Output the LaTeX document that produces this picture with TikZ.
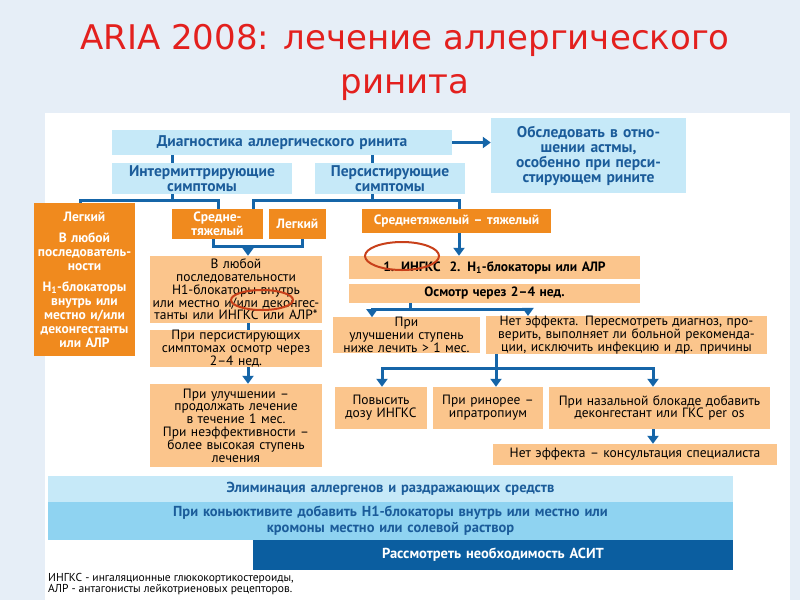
\documentclass[tikz,border=0pt]{standalone}
\usepackage{fontspec}
\setmainfont{PT Sans}
\newfontfamily\titlefont{DejaVu Sans}
\usetikzlibrary{arrows.meta}
\definecolor{bgblue}{HTML}{E6EEF7}
\definecolor{lblue}{HTML}{C6E9F8}
\definecolor{tblue}{HTML}{1B5C9A}
\definecolor{orng}{HTML}{F08A1E}
\definecolor{peach}{HTML}{FBC58C}
\definecolor{mblue}{HTML}{8FD3F1}
\definecolor{dblue}{HTML}{0B5EA0}
\definecolor{ablue}{HTML}{1565A8}
\definecolor{ttlred}{HTML}{E3201E}
\definecolor{ring}{HTML}{C8401A}
\newcommand\bx[7]{\node[#6,inner sep=0pt,align=center,minimum width={(#4-#2)*1pt},minimum height={(#5-#3)*1pt},text width={(#4-#2-4)*1pt}] (#1) at ({(#2+#4)/2},{(#3+#5)/2}) {#7};}
\tikzset{
 bluebox/.style={fill=lblue,text=tblue,font=\bfseries\fontsize{15.5}{15}\selectfont},
 orbox/.style={fill=orng,text=white,font=\bfseries\fontsize{13.5}{14}\selectfont},
 pbox/.style={fill=peach,text=black,font=\fontsize{13.5}{12.8}\selectfont},
 con/.style={draw=ablue,line width=3pt},
 arr/.style={con,-{Triangle[length=8pt,width=11pt]}},
}
\begin{document}
\begin{tikzpicture}[x=1pt,y=-1pt]
\fill[bgblue] (0,0) rectangle (800,600);
\fill[white] (45,113) rectangle (790,600);
\node[text=ttlred,font=\titlefont\fontsize{34}{44}\selectfont,align=center] (title) at (405,62) {ARIA 2008: лечение аллергического\\ринита};
\bx{diag}{112}{130}{452}{155}{bluebox}{Диагностика аллергического ринита}
\bx{asth}{491}{118}{686}{193}{bluebox}{Обследовать в отно-\\шении астмы,\\особенно при перси-\\стирующем рините}
\bx{intm}{112}{163}{292}{194}{bluebox}{Интермиттрирующие\\симптомы}
\bx{pers}{315}{163}{465}{194}{bluebox}{Персистирующие\\симптомы}
\bx{leg1}{34}{203}{135}{356}{orbox}{Легкий\\[7pt]В любой последователь-\\ности\\[7pt]H\textsubscript{1}-блокаторы внутрь или местно и/или деконгестанты или АЛР}
\bx{srt}{172}{209}{263}{239}{orbox}{Средне-\\тяжелый}
\bx{leg2}{269}{209}{326}{239}{orbox}{Легкий}
\bx{stt}{362}{209}{551}{233}{orbox}{Среднетяжелый – тяжелый}
\bx{p1}{150}{256}{322}{323}{pbox}{В любой\\последовательности\\Н1-блокаторы внутрь\\или местно и/или деконгес-\\танты или ИНГКС или АЛР*}
\bx{p2}{150}{330}{322}{367}{pbox}{При персистирующих\\симптомах осмотр через\\2–4 нед.}
\bx{p3}{150}{384}{322}{467}{pbox}{При улучшении –\\продолжать лечение\\в течение 1 мес.\\При неэффективности –\\более высокая ступень\\лечения}
\bx{ing}{349}{256}{640}{279}{pbox}{\bfseries 1. ИНГКС\ \ 2. H\textsubscript{1}-блокаторы или АЛР}
\bx{osm}{349}{284}{640}{303}{pbox}{\bfseries Осмотр через 2–4 нед.}
\bx{impr}{333}{319}{480}{351}{pbox}{При\\улучшении ступень\\ниже лечить > 1 мес.}
\bx{noef}{486}{319}{767}{351}{pbox}{Нет эффекта. Пересмотреть диагноз, про-\\верить, выполняет ли больной рекоменда-\\ции, исключить инфекцию и др. причины}
\bx{dose}{335}{387}{427}{429}{pbox}{Повысить\\дозу ИНГКС}
\bx{rino}{433}{387}{543}{429}{pbox}{При ринорее –\\ипратропиум}
\bx{nasal}{549}{387}{770}{429}{pbox}{При назальной блокаде добавить\\деконгестант или ГКС per os}
\bx{cons}{493}{444}{777}{465}{pbox}{Нет эффекта – консультация специалиста}
\bx{elim}{48}{476}{733}{502}{fill=lblue,text=tblue,font=\bfseries\fontsize{14.5}{15}\selectfont}{Элиминация аллергенов и раздражающих средств}
\bx{conj}{48}{502}{733}{540}{fill=mblue,text=tblue,font=\bfseries\fontsize{14.5}{16}\selectfont}{При коньюктивите добавить H1-блокаторы внутрь или местно или\\кромоны местно или солевой раствор}
\bx{asit}{253}{540}{733}{570}{fill=dblue,text=white,font=\bfseries\fontsize{14.5}{15}\selectfont}{Рассмотреть необходимость АСИТ}
\node[anchor=north west,align=left,inner sep=0pt,font=\fontsize{11.5}{11.5}\selectfont] (foot) at (48,573) {ИНГКС - ингаляционные глюкокортикостероиды,\\АЛР - антагонисты лейкотриеновых рецепторов.};
% x guides
\foreach \xx in {80,172,213,218,248,253,302,372,382,410,459,496,528,653} {\coordinate (x\xx) at (\xx,0);}
% connectors
\draw[arr] (diag.east) -- (diag.east -| asth.west);
\draw[con] (diag.south -| x172) -- (intm.north -| x172);
\draw[con] (diag.south -| x372) -- (pers.north -| x372);
\coordinate (ij) at (172,200);
\draw[con] (intm.south -| x172) -- (ij);
\draw[con] (leg1.north -| x80) |- (ij) -| (srt.north -| x218);
\coordinate (pj) at (372,200);
\draw[con] (pers.south -| x372) -- (pj);
\draw[con] (leg2.north -| x253) |- (pj) -| (stt.north -| x459);
\coordinate (sj) at (248,246);
\draw[con] (srt.south -| x213) |- (sj) -| (leg2.south -| x302);
\draw[arr] (sj) -- (p1.north -| x248);
\draw[arr] (stt.south -| x459) -- (ing.north -| x459);
\draw[con] (p1.south -| x248) -- (p2.north -| x248);
\draw[arr] (p2.south -| x248) -- (p3.north -| x248);
\coordinate (oj) at (410,309);
\draw[con] (osm.south -| x410) -- (oj);
\draw[arr] (oj) -| (impr.north -| x372);
\draw[arr] (oj) -| (noef.north -| x528);
\coordinate (nj) at (496,368);
\draw[con] (noef.south -| x496) -- (nj);
\draw[arr] (nj) -| (dose.north -| x382);
\draw[arr] (nj) -- (rino.north -| x496);
\draw[arr] (nj) -| (nasal.north -| x653);
\draw[arr] (nasal.south -| x653) -- (cons.north -| x653);
% rings
\draw[ring,line width=2pt] (402,256) ellipse (37pt and 14pt);
\draw[ring,line width=2pt] (262,300) ellipse (31pt and 10pt);
\end{tikzpicture}
\end{document}
